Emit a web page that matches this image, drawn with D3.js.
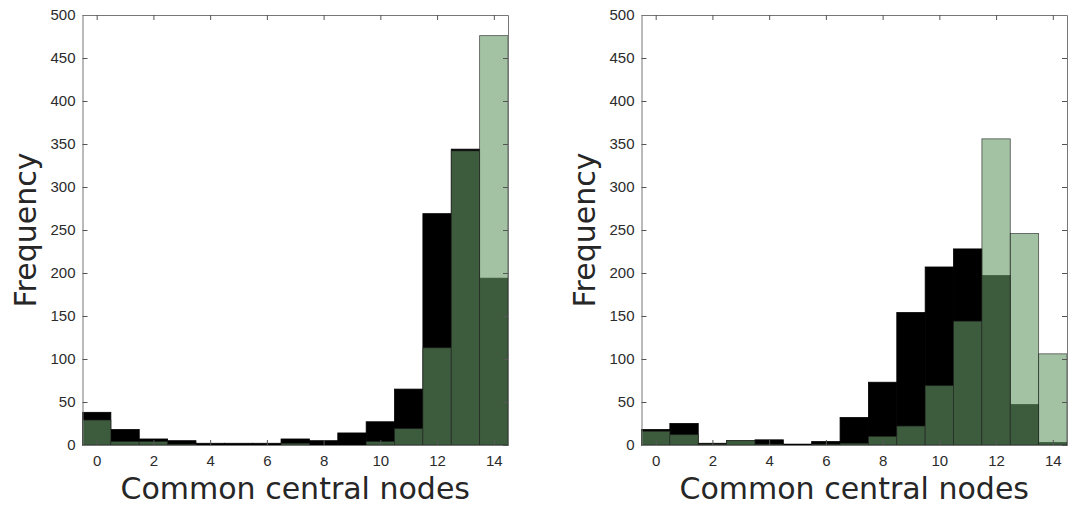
<!DOCTYPE html>
<html>
<head>
<meta charset="utf-8">
<script src="https://cdn.jsdelivr.net/npm/d3@7"></script>
<style>
  body { margin: 0; background: #fff; }
  .tick text { font-family: "Liberation Sans", Arial, sans-serif; font-size: 15px; fill: #2b2b2b; }
  .axis-title { font-family: "DejaVu Sans", "Open Sans", sans-serif; font-size: 30px; fill: #262626; }
</style>
</head>
<body>
<svg id="chart" width="1072" height="506"></svg>
<script>
// bins (common central nodes)
var bins = [0, 1, 2, 3, 4, 5, 6, 7, 8, 9, 10, 11, 12, 13, 14];

// left panel
var leftBlack = [38, 18, 7, 5, 2, 2, 2, 7, 5, 14, 27, 65, 269, 344, 194];
var leftGreen = [29, 4, 4, 1, 0, 0, 0, 2, 0, 0, 4, 19, 113, 342, 476];

// right panel
var rightBlack = [18, 25, 2, 5, 6, 1, 4, 32, 73, 154, 207, 228, 197, 47, 3];
var rightGreen = [16, 12, 1, 5, 1, 0, 1, 2, 10, 22, 69, 144, 356, 246, 106];

var yTicks = [0, 50, 100, 150, 200, 250, 300, 350, 400, 450, 500];
var xTicks = [0, 2, 4, 6, 8, 10, 12, 14];

var svg = d3.select("#chart");

var plotTop = 15;
var plotBottom = 445;
var plotWidth = 425.5;

function drawPanel(left, black, green) {
  var x = d3.scaleLinear()
    .domain([-0.5, 14.5])
    .range([left, left + plotWidth]);

  var y = d3.scaleLinear()
    .domain([0, 500])
    .range([plotBottom, plotTop]);

  var g = svg.append("g");

  // black histogram (opaque)
  g.selectAll("rect.black")
    .data(bins)
    .enter()
    .append("rect")
    .attr("class", "black")
    .attr("x", d => x(d - 0.5))
    .attr("width", d => x(d + 0.5) - x(d - 0.5))
    .attr("y", d => y(black[d]))
    .attr("height", d => y(0) - y(black[d]))
    .attr("fill", "#000")
    .attr("stroke", "#000")
    .attr("stroke-width", 0.8);

  // green histogram on top, semi transparent
  g.selectAll("rect.green")
    .data(bins.filter(d => green[d] > 0))
    .enter()
    .append("rect")
    .attr("class", "green")
    .attr("x", d => x(d - 0.5))
    .attr("width", d => x(d + 0.5) - x(d - 0.5))
    .attr("y", d => y(green[d]))
    .attr("height", d => y(0) - y(green[d]))
    .attr("fill", "#669966")
    .attr("fill-opacity", 0.6)
    .attr("stroke", "#222")
    .attr("stroke-opacity", 0.75)
    .attr("stroke-width", 0.8);

  // axes, matlab style: ticks inward, box on
  var leftAxis = d3.axisLeft(y).tickValues(yTicks).tickSizeInner(-5).tickSizeOuter(0).tickPadding(7);
  var bottomAxis = d3.axisBottom(x).tickValues(xTicks).tickSizeInner(-5).tickSizeOuter(0).tickPadding(10);
  var rightAxis = d3.axisRight(y).tickValues(yTicks).tickSizeInner(-5).tickSizeOuter(0).tickFormat("");
  var topAxis = d3.axisTop(x).tickValues(xTicks).tickSizeInner(-5).tickSizeOuter(0).tickFormat("");

  var axes = [
    g.append("g").attr("transform", `translate(${left}, 0)`).call(leftAxis),
    g.append("g").attr("transform", `translate(0, ${plotBottom})`).call(bottomAxis),
    g.append("g").attr("transform", `translate(${left + plotWidth}, 0)`).call(rightAxis),
    g.append("g").attr("transform", `translate(0, ${plotTop})`).call(topAxis)
  ];
  axes.forEach(function(a) {
    a.selectAll("path").attr("stroke", "#777");
    a.selectAll("line").attr("stroke", "#555");
  });

  // axis titles
  g.append("text")
    .attr("class", "axis-title")
    .attr("x", left + plotWidth / 2)
    .attr("y", 499)
    .attr("text-anchor", "middle")
    .text("Common central nodes");

  g.append("text")
    .attr("class", "axis-title")
    .attr("transform", `translate(${left - 47}, ${(plotTop + plotBottom) / 2}) rotate(-90)`)
    .attr("text-anchor", "middle")
    .text("Frequency");
}

drawPanel(82.5, leftBlack, leftGreen);
drawPanel(641.5, rightBlack, rightGreen);
</script>
</body>
</html>
